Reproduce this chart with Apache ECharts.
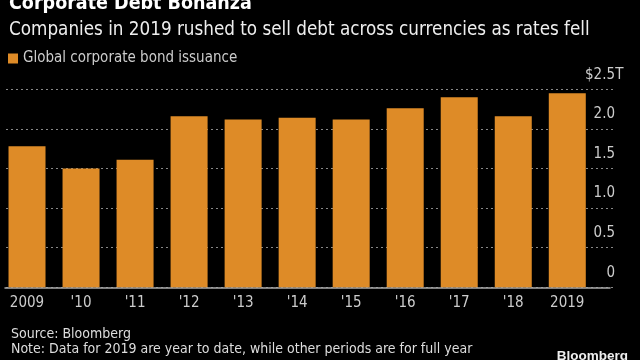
<!DOCTYPE html>
<html><head><meta charset="utf-8">
<script src="https://cdn.jsdelivr.net/npm/echarts@6/dist/echarts.min.js"></script>
<style>html,body{margin:0;padding:0;background:#000;}#c{width:640px;height:360px;}</style>
</head><body><div id="c"></div>
<script>
const categories = ['2009', "'10", "'11", "'12", "'13", "'14", "'15", "'16", "'17", "'18", '2019'];
const issuance = [1.78, 1.50, 1.61, 2.16, 2.12, 2.14, 2.12, 2.26, 2.40, 2.16, 2.45];
const seriesName = 'Global corporate bond issuance';
const yTicks = [0, 0.5, 1.0, 1.5, 2.0, 2.5];

const FONT = '"Liberation Sans Narrow", "DejaVu Sans Condensed", sans-serif';
const chart = echarts.init(document.getElementById('c'));
const TOP = 89.3, BOTTOM = 360 - 287.3;
chart.setOption({
  backgroundColor: '#000',
  animation: false,
  textStyle: { fontFamily: FONT },
  title: [
    { text: 'Corporate Debt Bonanza', left: 4, top: -11, textStyle: { color: '#fff', fontSize: 19.5, fontWeight: 'bold', fontFamily: FONT } },
    { text: 'Companies in 2019 rushed to sell debt across currencies as rates fell', left: 4, top: 16, textStyle: { color: '#eee', fontSize: 18.7, fontWeight: 'normal', fontFamily: FONT } },
    { text: 'Source: Bloomberg', left: 6, top: 322, textStyle: { color: '#ddd', fontSize: 14, fontWeight: 'normal', fontFamily: FONT } },
    { text: 'Note: Data for 2019 are year to date, while other periods are for full year', left: 6, top: 337, textStyle: { color: '#ddd', fontSize: 14, fontWeight: 'normal', fontFamily: FONT } },
    { text: 'Bloomberg', right: 7, top: 344, textStyle: { color: '#eee', fontSize: 13.5, fontWeight: 'bold', fontFamily: '"Liberation Sans", sans-serif' } }
  ],
  legend: {
    left: 3, top: 46, icon: 'rect', itemWidth: 10, itemHeight: 10, itemGap: 6,
    textStyle: { color: '#ccc', fontSize: 15, fontFamily: FONT },
    data: [seriesName]
  },
  grid: [
    { left: -2.6, right: 640 - 594.3, top: TOP, bottom: BOTTOM },
    { left: 6, right: 25, top: TOP, bottom: BOTTOM },
    { left: 5, right: 30, top: TOP, bottom: BOTTOM }
  ],
  xAxis: [
    { type: 'category', gridIndex: 0, data: categories,
      axisLine: { show: false }, axisTick: { show: false },
      axisLabel: { color: '#ccc', fontSize: 15, margin: 8, fontFamily: FONT } },
    { type: 'value', gridIndex: 1, min: 0, max: 1, show: false },
    { type: 'value', gridIndex: 2, min: 0, max: 1, axisLabel: { show: false }, axisTick: { show: false }, splitLine: { show: false },
      axisLine: { show: true, lineStyle: { color: '#aaa', width: 1.5 } } }
  ],
  yAxis: [
    { type: 'value', gridIndex: 0, min: 0, max: 2.5, interval: 0.5, show: false },
    { type: 'value', gridIndex: 1, min: 0, max: 2.5, interval: 0.5, position: 'right',
      axisLine: { show: false }, axisTick: { show: false },
      splitLine: { show: true, lineStyle: { color: '#888', type: [2, 3], width: 1 } },
      axisLabel: { inside: true, margin: 0, color: '#ccc', fontSize: 15, fontFamily: FONT,
        verticalAlign: 'bottom', lineHeight: 15, padding: [0, 0, 7, 0],
        formatter: function (v) {
          if (v === 0) return '0';
          if (v === 2.5) return '$' + v.toFixed(1) + '{t|\u00a0\u00a0T}';
          return v.toFixed(1);
        },
        rich: { t: { width: 0, align: 'left', color: '#ccc', fontSize: 15, fontFamily: FONT, lineHeight: 15 } }
      } },
    { type: 'value', gridIndex: 2, min: 0, max: 1, show: false }
  ],
  series: [{
    name: seriesName, type: 'bar', xAxisIndex: 0, yAxisIndex: 0,
    data: issuance, barWidth: 37, itemStyle: { color: '#DE8B27' }
  }]
});
</script></body></html>
